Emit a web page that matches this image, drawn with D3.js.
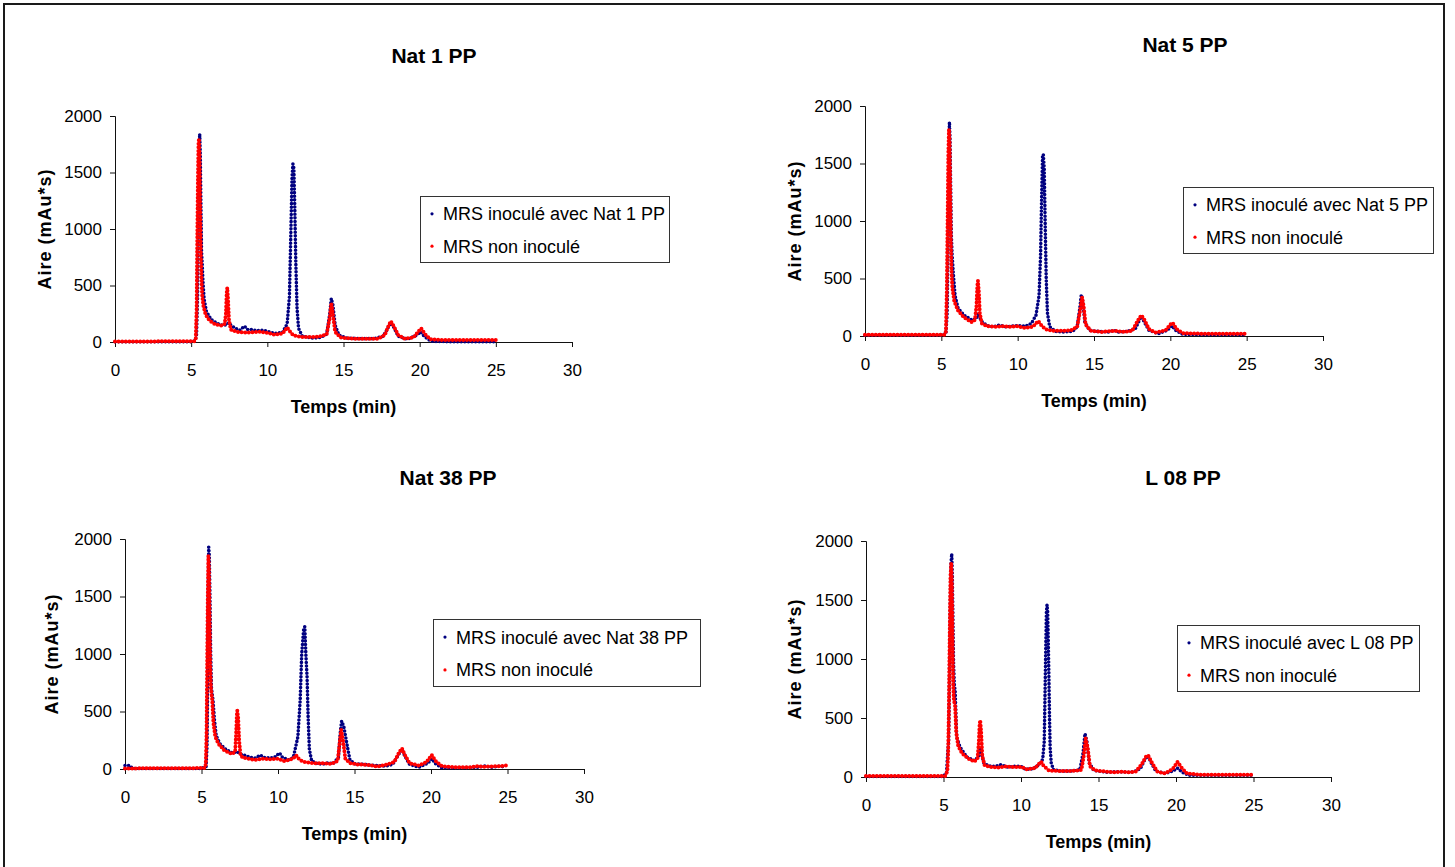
<!DOCTYPE html>
<html>
<head>
<meta charset="utf-8">
<script src="https://cdn.jsdelivr.net/npm/d3@7"></script>
<style>
  html, body { margin: 0; padding: 0; background: #fff; }
  svg { display: block; font-family: "Liberation Sans", Arial, sans-serif; }
</style>
</head>
<body>
<svg id="chart" width="1455" height="867"></svg>
<script>
// Chromatograms: retention time (min) vs. peak area (mAu*s)
const xTicks = [0, 5, 10, 15, 20, 25, 30];
const yTicks = [0, 500, 1000, 1500, 2000];
const titles = ["Nat 1 PP", "Nat 5 PP", "Nat 38 PP", "L 08 PP"];
const inocLabels = ["MRS inoculé avec Nat 1 PP", "MRS inoculé avec Nat 5 PP", "MRS inoculé avec Nat 38 PP", "MRS inoculé avec L 08 PP"];
const ctrlLabel = "MRS non inoculé";
const xLabel = "Temps (min)";
const yLabel = "Aire (mAu*s)";

// [time, area] pairs
const nat1Inoc = [[0,2],[2,2],[4,2],[5.0,3],[5.25,10],[5.35,60],[5.42,400],[5.47,1000],[5.52,1550],[5.56,1840],[5.6,1650],[5.64,1200],[5.68,800],[5.72,700],[5.78,520],[5.85,380],[6.0,270],[6.3,200],[6.7,165],[7.0,150],[7.3,150],[7.45,170],[7.6,150],[7.9,120],[8.2,105],[8.5,140],[8.7,110],[9.0,110],[9.3,100],[9.7,105],[10.0,95],[10.5,75],[11.0,85],[11.3,160],[11.45,400],[11.55,1000],[11.62,1450],[11.68,1575],[11.74,1540],[11.8,1200],[11.87,700],[11.95,300],[12.05,120],[12.3,50],[13.0,35],[13.5,40],[13.9,70],[14.1,250],[14.2,385],[14.3,330],[14.45,150],[14.7,60],[15.2,35],[16,30],[17,30],[17.6,50],[17.9,120],[18.1,170],[18.3,130],[18.6,50],[19.2,25],[19.8,60],[20.05,90],[20.3,50],[20.7,10],[21,5],[22,3],[24,3],[25,3]];
const nat1Ctrl = [[0,5],[5.2,6],[5.3,30],[5.36,300],[5.4,900],[5.44,1400],[5.48,1750],[5.51,1800],[5.55,1650],[5.59,1200],[5.63,800],[5.67,600],[5.72,420],[5.8,320],[5.95,240],[6.2,190],[6.6,155],[7.0,145],[7.2,160],[7.28,250],[7.33,430],[7.37,480],[7.42,380],[7.48,200],[7.6,110],[8.0,90],[8.5,85],[9.0,85],[9.5,90],[10.0,80],[10.5,65],[11.0,75],[11.2,110],[11.3,130],[11.45,100],[11.7,60],[12.2,45],[13.0,45],[13.5,50],[13.9,70],[14.1,220],[14.2,345],[14.3,250],[14.45,90],[14.8,40],[15.5,30],[16.5,28],[17.3,30],[17.7,60],[17.95,140],[18.1,185],[18.3,140],[18.6,60],[19.0,30],[19.6,40],[19.9,90],[20.1,120],[20.35,70],[20.7,25],[21.5,18],[23,18],[25,18]];

const nat5Inoc = [[0,8],[5.0,8],[5.3,20],[5.38,200],[5.44,800],[5.49,1400],[5.53,1860],[5.57,1700],[5.61,1300],[5.65,900],[5.7,720],[5.78,550],[5.9,350],[6.1,240],[6.5,180],[7.0,140],[7.3,150],[7.45,200],[7.6,130],[8.0,90],[8.4,80],[8.8,95],[9.2,80],[9.6,85],[10,90],[10.5,85],[10.9,110],[11.2,180],[11.4,350],[11.5,700],[11.57,1200],[11.63,1560],[11.68,1580],[11.74,1450],[11.8,1000],[11.87,500],[11.95,200],[12.1,80],[12.5,40],[13.0,35],[13.6,40],[13.9,80],[14.08,250],[14.17,360],[14.27,300],[14.4,120],[14.7,50],[15.2,40],[16,35],[16.3,50],[16.6,35],[17.2,40],[17.4,50],[17.7,60],[17.95,130],[18.1,170],[18.3,120],[18.6,50],[19.2,20],[19.8,50],[20.1,90],[20.35,50],[20.8,15],[22,12],[25,12]];
const nat5Ctrl = [[0,10],[5.2,10],[5.3,40],[5.36,400],[5.41,1000],[5.46,1600],[5.5,1800],[5.54,1700],[5.58,1300],[5.62,850],[5.66,600],[5.72,420],[5.85,300],[6.1,220],[6.5,160],[7.0,120],[7.2,140],[7.3,260],[7.36,440],[7.4,480],[7.46,380],[7.52,200],[7.65,110],[8.0,85],[8.5,80],[9.0,85],[9.5,80],[10,85],[10.5,70],[11,80],[11.2,110],[11.35,130],[11.5,100],[11.8,60],[12.3,45],[13,45],[13.5,50],[13.9,80],[14.1,230],[14.22,335],[14.32,260],[14.45,100],[14.8,45],[15.5,35],[16.3,45],[17,35],[17.5,45],[17.9,140],[18.1,180],[18.3,140],[18.6,60],[19.0,30],[19.7,50],[20.0,100],[20.15,115],[20.4,60],[20.8,25],[22,20],[25,20]];

const nat38Inoc = [[0,30],[0.3,30],[0.5,5],[5.0,5],[5.3,20],[5.36,200],[5.4,700],[5.44,1400],[5.47,1930],[5.51,1850],[5.55,1500],[5.6,1000],[5.65,700],[5.75,600],[5.85,420],[5.96,290],[6.2,220],[6.6,170],[7.0,140],[7.35,150],[7.5,130],[7.8,120],[8.2,100],[8.5,95],[8.86,120],[9.1,100],[9.5,95],[9.8,105],[10.1,140],[10.3,100],[10.7,80],[11.0,100],[11.3,280],[11.45,600],[11.55,1000],[11.68,1220],[11.75,1238],[11.82,1000],[11.9,800],[11.97,450],[12.05,170],[12.2,70],[12.6,45],[13.0,45],[13.3,55],[13.6,45],[13.95,100],[14.08,330],[14.16,417],[14.3,370],[14.5,220],[14.7,80],[15.0,45],[15.6,40],[16.3,30],[17.0,25],[17.5,40],[17.9,130],[18.1,170],[18.3,110],[18.6,40],[19.2,15],[19.8,50],[20.05,90],[20.3,45],[20.7,10],[22,10],[23,15],[23.5,25],[24,15],[24.5,25],[24.9,15]];
const nat38Ctrl = [[0,5],[5.2,8],[5.28,40],[5.33,300],[5.37,900],[5.41,1500],[5.45,1855],[5.49,1750],[5.53,1300],[5.57,900],[5.62,700],[5.7,600],[5.78,400],[5.9,280],[6.1,220],[6.5,160],[7.0,130],[7.2,150],[7.26,300],[7.31,470],[7.34,507],[7.4,440],[7.46,250],[7.55,120],[7.7,100],[8.0,90],[8.5,80],[9.0,90],[9.5,85],[10.0,90],[10.4,70],[10.8,80],[11.05,100],[11.18,120],[11.35,90],[11.6,65],[12.0,55],[12.5,50],[13.0,50],[13.5,45],[13.9,70],[14.05,250],[14.13,339],[14.25,250],[14.4,90],[14.7,50],[15.2,40],[16,35],[16.5,20],[17,35],[17.6,60],[17.9,140],[18.1,180],[18.3,120],[18.6,50],[19.2,30],[19.7,60],[20.05,122],[20.3,70],[20.7,25],[21.5,15],[22.5,15],[23,25],[23.5,20],[24.5,25],[24.9,30]];

const l08Inoc = [[0,5],[5.0,5],[5.2,40],[5.27,200],[5.33,300],[5.38,800],[5.43,1400],[5.48,1800],[5.53,1891],[5.57,1700],[5.61,1300],[5.65,950],[5.7,780],[5.75,730],[5.85,340],[6.06,255],[6.5,170],[7.0,140],[7.25,170],[7.36,255],[7.45,200],[7.6,120],[7.9,95],[8.3,90],[8.7,105],[9.1,85],[9.6,90],[10.0,90],[10.3,65],[10.8,70],[11.2,110],[11.4,150],[11.5,300],[11.55,700],[11.6,1100],[11.64,1400],[11.68,1458],[11.72,1400],[11.76,1150],[11.8,850],[11.84,500],[11.88,250],[11.95,120],[12.1,60],[12.6,50],[13.2,50],[13.5,55],[13.8,60],[14.0,200],[14.13,368],[14.25,300],[14.4,120],[14.7,55],[15.0,50],[15.5,40],[16.3,45],[17.0,40],[17.3,45],[17.7,70],[18.0,150],[18.2,180],[18.4,120],[18.7,50],[19.3,30],[19.8,50],[20.1,75],[20.4,40],[20.8,15],[22,15],[25,15]];
const l08Ctrl = [[0,8],[5.1,8],[5.25,50],[5.3,200],[5.35,600],[5.4,1200],[5.45,1700],[5.5,1813],[5.54,1650],[5.58,1200],[5.62,800],[5.67,650],[5.75,600],[5.82,380],[5.95,260],[6.2,200],[6.6,155],[7.0,130],[7.2,160],[7.28,300],[7.33,450],[7.37,480],[7.43,380],[7.5,180],[7.65,100],[8.0,85],[8.5,80],[9.0,90],[9.5,85],[10,85],[10.4,65],[10.9,75],[11.15,110],[11.3,130],[11.45,95],[11.8,55],[12.5,50],[13.2,50],[13.6,55],[13.9,60],[14.05,180],[14.17,326],[14.3,250],[14.45,90],[14.8,55],[15.2,50],[16,40],[16.4,45],[17,40],[17.4,45],[17.8,110],[18.05,170],[18.2,185],[18.45,120],[18.8,45],[19.3,30],[19.8,70],[20.1,127],[20.35,80],[20.7,30],[21.5,20],[23,20],[25,20]];

const inocSeries = [nat1Inoc, nat5Inoc, nat38Inoc, l08Inoc];
const ctrlSeries = [nat1Ctrl, nat5Ctrl, nat38Ctrl, l08Ctrl];

const colInoc = "#000080";
const colCtrl = "#ff0000";

// Panel layout (plot area, title, legend box) in pixels
const panels = [
  { x0: 115, x1: 572,  y0: 342, y1: 116, title: [434, 55],  legend: [420, 196, 249, 66],  ylab: 45 },
  { x0: 865, x1: 1323, y0: 336, y1: 106, title: [1185, 44], legend: [1183, 187, 250, 66], ylab: 795 },
  { x0: 125, x1: 584,  y0: 769, y1: 539, title: [448, 477], legend: [433, 619, 267, 67],  ylab: 52 },
  { x0: 866, x1: 1331, y0: 777, y1: 541, title: [1183, 477], legend: [1177, 625, 242, 66], ylab: 795 }
];

const svg = d3.select("#chart");
svg.append("rect").attr("x", 0).attr("y", 0).attr("width", 1455).attr("height", 867).attr("fill", "#fff");
svg.append("rect").attr("x", 4).attr("y", 4).attr("width", 1440).attr("height", 880)
  .attr("fill", "none").attr("stroke", "#1a1a1a").attr("stroke-width", 2);

panels.forEach((p, i) => {
  const g = svg.append("g");
  const x = d3.scaleLinear().domain([0, 30]).range([p.x0, p.x1]);
  const y = d3.scaleLinear().domain([0, 2000]).range([p.y0, p.y1]);

  // axes
  const ax = g.append("g").attr("transform", `translate(0,${p.y0})`)
    .call(d3.axisBottom(x).tickValues(xTicks).tickSize(5).tickPadding(17).tickFormat(d3.format("d")));
  const ay = g.append("g").attr("transform", `translate(${p.x0},0)`)
    .call(d3.axisLeft(y).tickValues(yTicks).tickSize(5).tickPadding(8).tickFormat(d3.format("d")));
  [ax, ay].forEach(a => {
    a.selectAll("path, line").attr("stroke", "#111").attr("stroke-width", 1);
    a.selectAll("text").attr("font-size", 17).attr("fill", "#000")
      .attr("font-family", "'Liberation Sans', Arial, sans-serif");
  });

  // series: dense point markers rendered as a dotted trace
  const line = d3.line().x(d => x(d[0])).y(d => y(d[1]));
  [[inocSeries[i], colInoc, 3.6], [ctrlSeries[i], colCtrl, 4]].forEach(([data, col, w]) => {
    g.append("path").datum(data).attr("d", line)
      .attr("fill", "none").attr("stroke", col).attr("stroke-width", w)
      .attr("stroke-linecap", "round").attr("stroke-linejoin", "round")
      .attr("stroke-dasharray", "0 3.6");
  });

  // titles
  g.append("text").attr("x", p.title[0]).attr("y", p.title[1]).attr("dy", "0.36em")
    .attr("text-anchor", "middle").attr("font-size", 21).attr("font-weight", "bold").text(titles[i]);
  g.append("text").attr("x", (p.x0 + p.x1) / 2).attr("y", p.y0 + 65).attr("dy", "0.36em")
    .attr("text-anchor", "middle").attr("font-size", 18).attr("font-weight", "bold").text(xLabel);
  g.append("text").attr("transform", `translate(${p.ylab},${(p.y0 + p.y1) / 2}) rotate(-90)`)
    .attr("dy", "0.36em").attr("text-anchor", "middle").attr("font-size", 18)
    .attr("font-weight", "bold").attr("letter-spacing", 1).text(yLabel);

  // legend
  const [lx, ly, lw, lh] = p.legend;
  const lg = g.append("g");
  lg.append("rect").attr("x", lx + 0.5).attr("y", ly + 0.5).attr("width", lw).attr("height", lh)
    .attr("fill", "#fff").attr("stroke", "#333").attr("stroke-width", 1);
  [[inocLabels[i], colInoc], [ctrlLabel, colCtrl]].forEach(([lab, col], k) => {
    const cy = ly + lh * (k === 0 ? 0.27 : 0.76);
    lg.append("circle").attr("cx", lx + 12).attr("cy", cy).attr("r", 1.6).attr("fill", col);
    lg.append("text").attr("x", lx + 23).attr("y", cy).attr("dy", "0.36em")
      .attr("font-size", 18).attr("fill", "#000").text(lab);
  });
});
</script>
</body>
</html>
